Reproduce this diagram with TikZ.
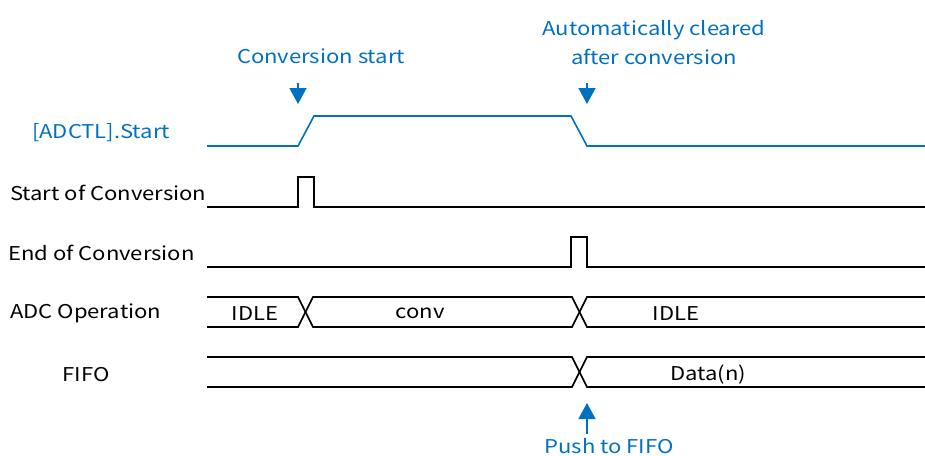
\documentclass[tikz,border=0pt]{standalone}
\usepackage{fontspec}
\setmainfont[FakeStretch=1.16]{Noto Sans CJK JP}
\usetikzlibrary{arrows.meta}
\definecolor{sigblue}{HTML}{0070C0}
\begin{document}
\begin{tikzpicture}[x=1pt,y=-1pt,
  wave/.style={line width=1.6pt, line join=miter},
  bluewave/.style={wave, draw=sigblue},
  lbl/.style={font=\fontsize{19}{22}\selectfont, inner sep=0pt, yshift=-1.5pt},
  bluelbl/.style={lbl, text=sigblue, align=center},
  callout/.style={draw=sigblue, line width=1.5pt, -{Triangle[width=17pt,length=16pt]}}]
\useasboundingbox (0,0) rectangle (925,455);

% signal names
\node[bluelbl] (nstart) at (101,131) {[ADCTL].Start};
\node[lbl, anchor=west] (nsoc) at (10,191) {Start of Conversion};
\node[lbl, anchor=west] (neoc) at (8,251) {End of Conversion};
\node[lbl, anchor=west] (nadc) at (10,312) {ADC Operation};
\node[lbl] (nfifo) at (86,373) {FIFO};

% [ADCTL].Start register bit
\draw[bluewave] (207,146) -- (298,146) -- (314,116) -- (571,116) -- (587,146) -- (925,146);

% Start of Conversion pulse
\draw[wave] (207,207) -- (298,207) -- (298,177) -- (314,177) -- (314,207) -- (925,207);

% End of Conversion pulse
\draw[wave] (207,267) -- (571,267) -- (571,237) -- (587,237) -- (587,267) -- (925,267);

% ADC Operation bus
\draw[wave] (207,297) -- (298,297) -- (313,327) -- (572,327) -- (587,297) -- (925,297);
\draw[wave] (207,327) -- (298,327) -- (313,297) -- (572,297) -- (587,327) -- (925,327);
\node[lbl] (sidle1) at (255,312) {IDLE};
\node[lbl] (sconv) at (420,312) {conv};
\node[lbl] (sidle2) at (676,312) {IDLE};

% FIFO bus
\draw[wave] (207,357) -- (572,357) -- (587,387) -- (925,387);
\draw[wave] (207,387) -- (572,387) -- (587,357) -- (925,357);
\node[lbl] (sdata) at (708,373) {Data(n)};

% annotations
\node[bluelbl] (aconv) at (321,55) {Conversion start};
\node[bluelbl, align=center] (aclear) at (654,41) {Automatically cleared\\[7pt]after conversion};
\node[bluelbl, yshift=1.5pt] (apush) at (609,446) {Push to FIFO};

\coordinate (c1a) at (298,83);
\coordinate (c1b) at (298,104);
\coordinate (c2a) at (587,83);
\coordinate (c2b) at (587,104);
\coordinate (c3a) at (587,434);
\coordinate (c3b) at (587,403);
\draw[callout] (c1a) -- (c1b);
\draw[callout] (c2a) -- (c2b);
\draw[callout] (c3a) -- (c3b);
\end{tikzpicture}
\end{document}
